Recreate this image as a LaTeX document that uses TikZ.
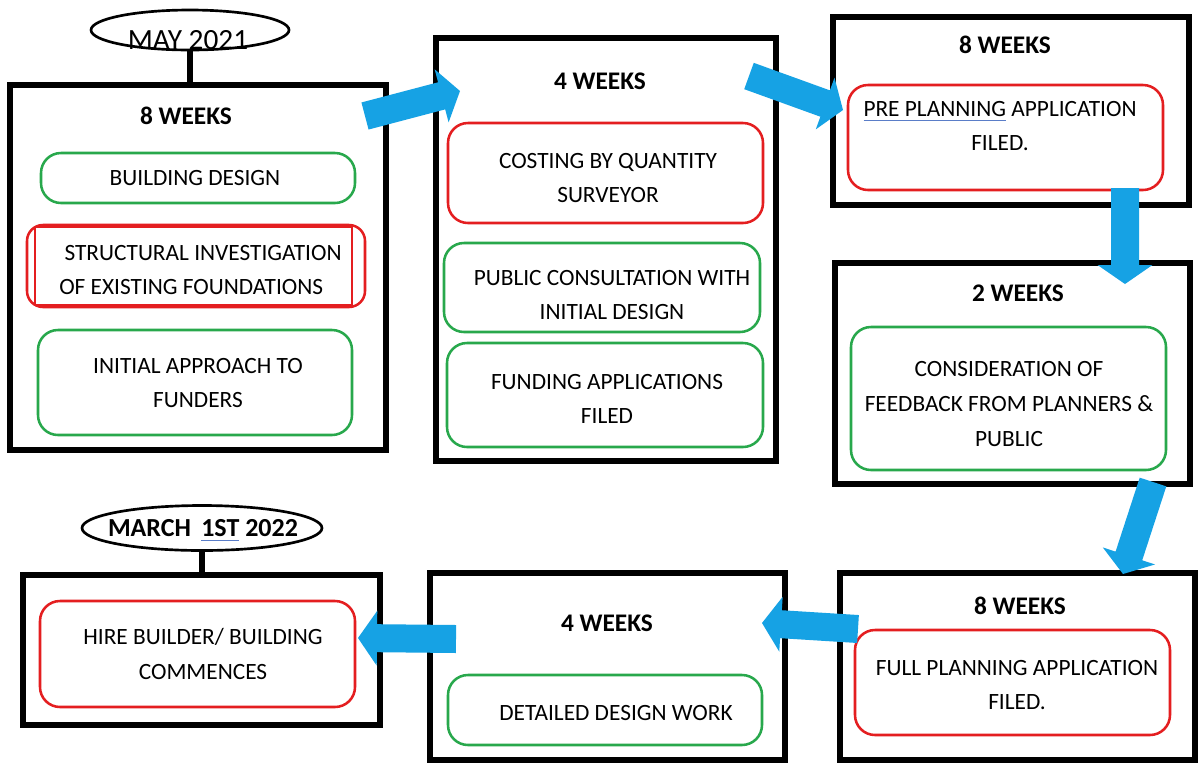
\documentclass[tikz,border=0pt]{standalone}
\usepackage{fontspec}
\setmainfont{Carlito}
\usetikzlibrary{calc,shapes.geometric}
\definecolor{cblue}{RGB}{22,162,228}
\definecolor{cgreen}{RGB}{40,168,76}
\definecolor{cred}{RGB}{228,30,32}
\definecolor{culb}{RGB}{90,125,200}
\newcommand\blueul[1]{\setbox0\hbox{#1}\rlap{\color{culb}\rule[-3.8pt]{\wd0}{1.1pt}}\box0\relax}
\newcommand\barrow[2]{%
  \coordinate (#1hb) at ($(#2)!14.25pt!(#1)$);
  \fill[cblue] ($(#1)!10.5pt!90:(#2)$) -- ($(#1hb)!10.5pt!90:(#2)$) -- ($(#1hb)!20.6pt!90:(#2)$) -- (#2)
    -- ($(#1hb)!20.6pt!-90:(#2)$) -- ($(#1hb)!10.5pt!-90:(#2)$) -- ($(#1)!10.5pt!-90:(#2)$) -- cycle;}
\begin{document}
\begin{tikzpicture}[x=0.75pt,y=-0.75pt,
  bigbox/.style={draw=black,line width=4pt,rectangle,inner sep=0pt},
  gbox/.style={draw=cgreen,line width=1.9pt,rectangle,rounded corners=15pt,inner sep=0pt},
  rbox/.style={draw=cred,line width=1.9pt,rectangle,rounded corners=15pt,inner sep=0pt},
  oval/.style={draw=black,line width=2pt,ellipse,inner sep=0pt},
  txt/.style={font=\fontsize{17.5}{26}\selectfont,align=center,inner sep=0pt},
  hd/.style={font=\bfseries\fontsize{19}{22}\selectfont,inner sep=0pt},
  stem/.style={line width=5pt}]
\fill[white] (0,0) rectangle (1200,765);
\useasboundingbox (0,0) rectangle (1200,765);

% outer boxes
\node[bigbox,minimum width=282pt,minimum height=273.75pt] (b1) at (198,267.5) {};
\node[bigbox,minimum width=255pt,minimum height=317.25pt] (b2) at (606,249.5) {};
\node[bigbox,minimum width=267pt,minimum height=141pt] (b3) at (1011,111) {};
\node[bigbox,minimum width=266.25pt,minimum height=165.75pt] (b4) at (1012.5,373.5) {};
\node[bigbox,minimum width=266.25pt,minimum height=140.25pt] (b5) at (1017.5,666.5) {};
\node[bigbox,minimum width=266.25pt,minimum height=140.25pt] (b6) at (607.5,666.5) {};
\node[bigbox,minimum width=267.75pt,minimum height=112.5pt] (b7) at (201.5,650) {};

% date ovals
\node[oval,minimum width=148.5pt,minimum height=30pt] (e1) at (190,30) {};
\draw[stem] (e1.south) -- (e1.south |- b1.north);
\node[oval,minimum width=180pt,minimum height=33.75pt] (e2) at (202,528) {};
\draw[stem] (e2.south) -- (e2.south |- b7.north);
\node[font=\fontsize{22}{26}\selectfont,inner sep=0pt] (t_e1) at (188,40) {MAY 2021};
\node[font=\bfseries\fontsize{19.5}{22}\selectfont,inner sep=0pt] (t_e2) at (203,530) {MARCH \,\blueul{1ST} 2022};

% inner boxes
\node[gbox,minimum width=235.5pt,minimum height=37.5pt] (i1) at (198,178) {};
\node[rbox,rounded corners=12pt,minimum width=253.5pt,minimum height=61.5pt] (i2) at (196,266) {};
\node[draw=cred,line width=1.5pt,rectangle,inner sep=0pt,minimum width=237.75pt,minimum height=58.5pt] (i2b) at (193.5,266) {};
\node[gbox,minimum width=235.5pt,minimum height=78.75pt] (i3) at (195,382.5) {};
\node[rbox,minimum width=236.25pt,minimum height=75pt] (i4) at (605.5,173) {};
\node[gbox,minimum width=237pt,minimum height=66.75pt] (i5) at (602,287.5) {};
\node[gbox,minimum width=237pt,minimum height=78pt] (i6) at (605,395) {};
\node[rbox,minimum width=236.25pt,minimum height=78.75pt] (i7) at (1005.5,137.5) {};
\node[gbox,minimum width=236.25pt,minimum height=107.25pt] (i8) at (1008.5,398.5) {};
\node[rbox,minimum width=236.25pt,minimum height=78.75pt] (i9) at (1012.5,682.5) {};
\node[gbox,minimum width=235.5pt,minimum height=52.5pt] (i10) at (605,710) {};
\node[rbox,minimum width=236.25pt,minimum height=79.5pt] (i11) at (197.5,654) {};

% headings
\node[hd] (h1) at (186,116) {8 WEEKS};
\node[hd] (h2) at (600,81) {4 WEEKS};
\node[hd] (h3) at (1005,45) {8 WEEKS};
\node[hd] (h4) at (1018,293) {2 WEEKS};
\node[hd] (h5) at (1020,606) {8 WEEKS};
\node[hd] (h6) at (607,623) {4 WEEKS};

% texts
\node[txt] (t1) at (195,178) {BUILDING DESIGN};
\node[txt,align=left,anchor=west] (t2) at (59,270) {\ STRUCTURAL INVESTIGATION\\OF EXISTING FOUNDATIONS};
\node[txt] (t3) at (198,383) {INITIAL APPROACH TO\\FUNDERS};
\node[txt] (t4) at (608,178) {COSTING BY QUANTITY\\SURVEYOR};
\node[txt] (t5) at (612,295) {PUBLIC CONSULTATION WITH\\INITIAL DESIGN};
\node[txt] (t6) at (607,399) {FUNDING APPLICATIONS\\FILED};
\node[txt] (t7) at (1000,126) {\blueul{PRE PLANNING} APPLICATION\\FILED.};
\node[txt] (t8) at (1009,404) {CONSIDERATION OF\\FEEDBACK FROM PLANNERS \&\\PUBLIC};
\node[txt] (t9) at (1017,685) {FULL PLANNING APPLICATION\\FILED.};
\node[txt] (t10) at (616,713) {DETAILED DESIGN WORK};
\node[txt] (t11) at (203,654) {HIRE BUILDER/ BUILDING\\COMMENCES};

% block arrows
\coordinate (a1s) at (365,116); \coordinate (a1e) at (460,91);
\coordinate (a2s) at (749,76);  \coordinate (a2e) at (843,110);
\coordinate (a3s) at (1125,188); \coordinate (a3e) at (1125,284);
\coordinate (a4s) at (1153,482); \coordinate (a4e) at (1123,574);
\coordinate (a5s) at (858,629);  \coordinate (a5e) at (762,623);
\coordinate (a6s) at (456,639);  \coordinate (a6e) at (358,638);
\barrow{a1s}{a1e}
\barrow{a2s}{a2e}
\barrow{a3s}{a3e}
\barrow{a4s}{a4e}
\barrow{a5s}{a5e}
\barrow{a6s}{a6e}
\end{tikzpicture}
\end{document}
